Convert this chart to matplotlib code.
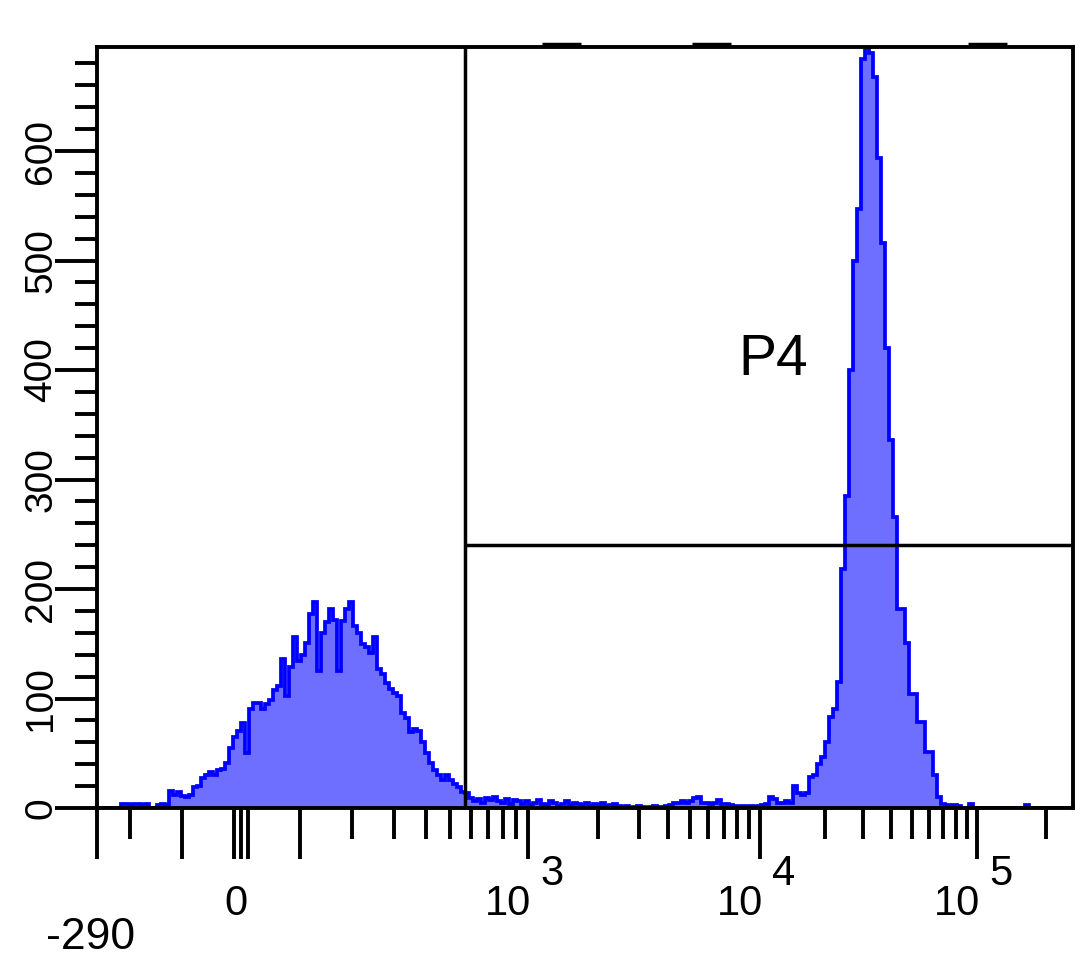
import numpy as np
import matplotlib
matplotlib.use('Agg')
import matplotlib.pyplot as plt
from matplotlib.transforms import offset_copy

plt.rcParams['font.family'] = ['Liberation Sans', 'DejaVu Sans']

# ---- biexponential display axis (value -> fraction of axis width)
anchor_vals = np.array([-290, -200, -100, 0, 100, 200, 1e3, 1e4, 1e5, 262143])
anchor_pos = np.array([0, 0.0338, 0.0871, 0.1475, 0.2080, 0.2613, 0.4416, 0.6793, 0.9016, 1.0])
anchor_t = np.arcsinh(anchor_vals / 100)

def fwd(x):
    return np.interp(np.arcsinh(np.asarray(x, float) / 100), anchor_t, anchor_pos)

def inv(d):
    return 100 * np.sinh(np.interp(np.asarray(d, float), anchor_pos, anchor_t))

# ---- histogram counts, channels uniform across the display (244 channels)
neg_tail = [0, 0, 0, 0, 0, 0, 4, 4, 3, 4, 4, 3, 4, 0, 0, 3, 4, 3]
left_peak = [16, 12, 15, 11, 10, 12, 19, 20, 27, 30, 33, 30, 35, 36, 41, 55, 65, 70, 78, 50,
             90, 96, 96, 90, 95, 99, 108, 111, 136, 102, 129, 156, 134, 140, 151, 177, 188, 125,
             160, 170, 182, 172, 125, 171, 182, 188, 166, 160, 150, 147, 142, 156, 127, 122, 114,
             109, 105, 102, 87, 82, 69, 72, 70, 60, 50, 41, 35, 30, 26, 30, 26, 22, 19, 15, 14]
mid_baseline = [9, 6, 8, 5, 9, 7, 10, 6, 5, 8, 4, 7, 6,
                4, 6, 3, 5, 7, 4, 3, 6, 5, 2, 4, 6, 3, 5, 4, 3, 5, 2, 4, 3, 5, 2, 3, 4, 2,
                1, 2, 0, 1, 2, 1, 0, 1, 2,
                1, 1, 2, 3, 5, 5, 6, 5, 6, 9, 10, 5, 5, 4, 5, 7, 4, 4, 3, 2, 1, 2, 1, 2, 1, 2,
                3, 4, 10, 8, 5, 5, 6, 5, 20, 14, 12, 14]
right_peak = [28, 30, 40, 47, 60, 83, 90, 115, 218, 285, 400, 500, 547, 684, 695, 690, 668, 594,
              516, 420, 336, 266, 182, 182, 151, 104, 104, 79, 79, 51, 51, 30, 10, 4, 3, 3, 3, 2]
pos_tail = [0, 0, 4] + [0] * 13 + [3] + [0] * 11

counts = np.array(neg_tail + left_peak + mid_baseline + right_peak + pos_tail, float)

# gate P4 (interval gate)
gate_low = 570
gate_high = 262143
gate_height = 240
top_marks = [(1150, 1700), (5110, 7520), (90600, 135000)]

x_major = [-290, -100, -10, 0, 10, 100, 1e3, 1e4, 1e5]
x_minor = ([-200] + list(range(200, 1000, 100)) + list(range(2000, 10000, 1000))
           + list(range(20000, 100000, 10000)) + [200000])
decades = [1e3, 1e4, 1e5]
decade_exps = ['3', '4', '5']
y_major = np.arange(0, 700, 100)
y_minor = np.arange(20, 700, 20)

fig = plt.figure(figsize=(10.8, 9.64), dpi=100)
ax = fig.add_axes([0.0898, 0.1618, 0.9037, 0.7894])
ax.set_xscale('function', functions=(fwd, inv))

edges = inv(np.linspace(0, 1, len(counts) + 1))
ax.stairs(counts, edges, fill=True, color='#6e6eff', lw=0, zorder=2)
ax.stairs(counts, edges, color='#0000ff', lw=2.7, zorder=2.1)

ax.axvline(gate_low, color='black', lw=2.5, zorder=3)
ax.hlines(gate_height, gate_low, gate_high, color='black', lw=2.5, zorder=3)

xt = ax.get_xaxis_transform()
for a, b in top_marks:
    ax.plot([a, b], [1.004, 1.004], transform=xt, color='black', lw=2.5,
            solid_capstyle='butt', clip_on=False)

ax.set_xlim(-290, 262143)
ax.set_ylim(0, 695)

ax.set_xticks(x_major)
ax.set_xticks(x_minor, minor=True)
ax.set_yticks(y_major)
ax.set_yticks(y_minor, minor=True)
ax.set_yticklabels([str(v) for v in y_major])

ax.tick_params(axis='x', which='major', length=37, width=2.8, labelbottom=False)
ax.tick_params(axis='x', which='minor', length=22, width=2.8, labelbottom=False)
ax.tick_params(axis='y', which='major', length=30, width=2.8, labelsize=28,
               labelrotation=90, pad=-3)
ax.tick_params(axis='y', which='minor', length=16, width=2.8)
for lbl in ax.get_yticklabels():
    lbl.set_va('center')

for s in ax.spines.values():
    s.set_linewidth(2.8)

# x tick labels drawn by hand (exponent same size as base)
ax.text(0, -0.126, '0', transform=offset_copy(xt, fig=fig, x=-5, units='dots'),
        ha='center', va='center', fontsize=30)
ax.text(-290, -0.170, '-290', transform=offset_copy(xt, fig=fig, x=-6, units='dots'),
        ha='center', va='center', fontsize=32)
for v, e in zip(decades, decade_exps):
    ax.text(v, -0.126, '10', transform=offset_copy(xt, fig=fig, x=3, units='dots'),
            ha='right', va='center', fontsize=30)
    ax.text(v, -0.087, e, transform=offset_copy(xt, fig=fig, x=12, units='dots'),
            ha='left', va='center', fontsize=30)

ax.text(0.657, 0.589, 'P4', transform=ax.transAxes, ha='left', va='center', fontsize=41)

fig.savefig('out.png', dpi=100)
